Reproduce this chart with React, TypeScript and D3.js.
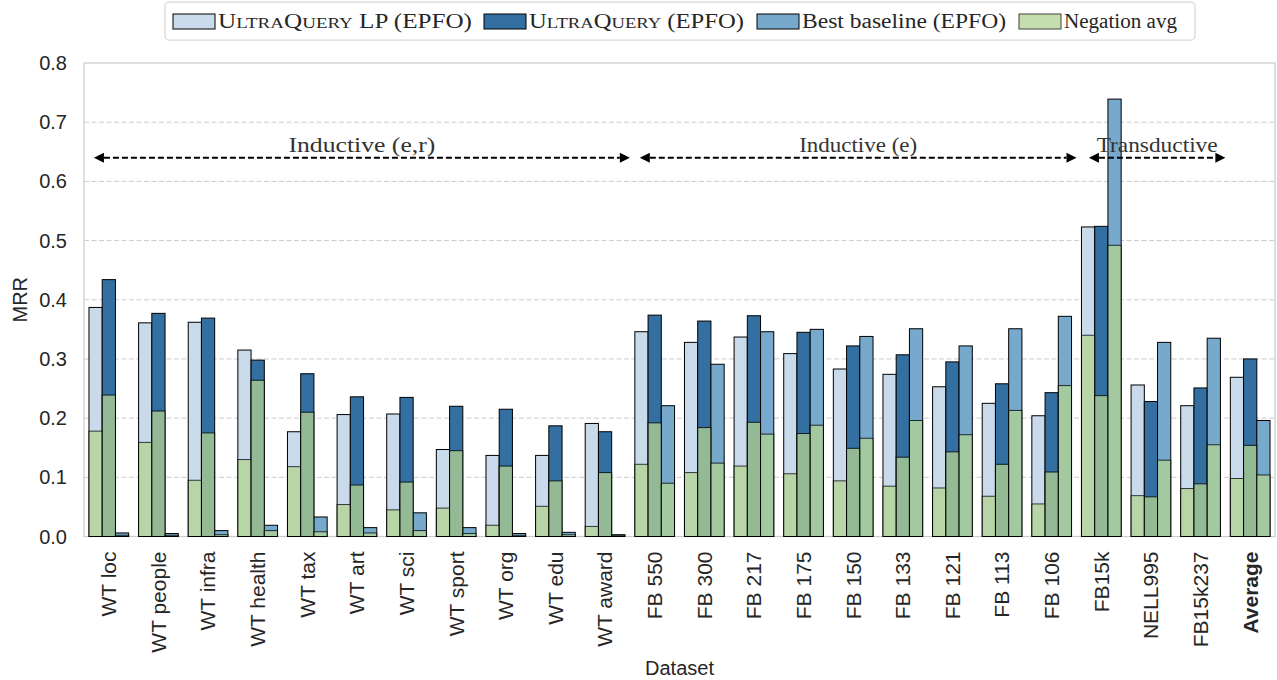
import React from "react";
import * as d3 from "d3";

// datasets on the x axis
const categories = [
  "WT loc", "WT people", "WT infra", "WT health", "WT tax", "WT art", "WT sci",
  "WT sport", "WT org", "WT edu", "WT award",
  "FB 550", "FB 300", "FB 217", "FB 175", "FB 150", "FB 133", "FB 121", "FB 113", "FB 106",
  "FB15k", "NELL995", "FB15k237", "Average",
];

// EPFO MRR
const lpEpfo = [0.387, 0.361, 0.362, 0.315, 0.177, 0.206, 0.207, 0.147, 0.137, 0.137, 0.191,
  0.346, 0.328, 0.337, 0.309, 0.283, 0.274, 0.253, 0.225, 0.204, 0.523, 0.256, 0.221, 0.269];
const uqEpfo = [0.434, 0.377, 0.369, 0.298, 0.275, 0.236, 0.235, 0.220, 0.215, 0.187, 0.177,
  0.374, 0.364, 0.373, 0.345, 0.322, 0.307, 0.295, 0.258, 0.243, 0.524, 0.228, 0.251, 0.300];
const baselineEpfo = [0.006, 0.005, 0.010, 0.019, 0.033, 0.015, 0.040, 0.015, 0.005, 0.007, 0.003,
  0.221, 0.291, 0.346, 0.350, 0.338, 0.351, 0.322, 0.351, 0.372, 0.739, 0.328, 0.335, 0.196];

// negation averages (overlaid)
const lpNeg = [0.178, 0.159, 0.095, 0.130, 0.118, 0.054, 0.045, 0.048, 0.019, 0.051, 0.017,
  0.122, 0.108, 0.119, 0.106, 0.094, 0.085, 0.082, 0.068, 0.055, 0.340, 0.069, 0.081, 0.098];
const uqNeg = [0.239, 0.212, 0.175, 0.264, 0.210, 0.087, 0.092, 0.145, 0.119, 0.094, 0.108,
  0.192, 0.184, 0.193, 0.174, 0.149, 0.134, 0.143, 0.122, 0.109, 0.238, 0.067, 0.089, 0.154];
const baselineNeg = [0.002, 0.002, 0.003, 0.010, 0.008, 0.006, 0.010, 0.005, 0.002, 0.003, 0.002,
  0.090, 0.124, 0.173, 0.188, 0.166, 0.196, 0.172, 0.213, 0.255, 0.492, 0.129, 0.155, 0.104];

const yTicks = [0, 0.1, 0.2, 0.3, 0.4, 0.5, 0.6, 0.7, 0.8];

// setting annotations, in category units
const regionLabels = ["Inductive (e,r)", "Inductive (e)", "Transductive"];
const regionStart = [-0.3, 10.7, 19.75];
const regionEnd = [10.5, 19.5, 22.5];
const regionLevel = 0.64;

const LIGHT = "#c9daea";
const DARK = "#336fa1";
const MID = "#76a9cb";
const GREEN = "rgb(179,212,146)";
const SANS = "'Liberation Sans', Arial, sans-serif";
const SERIF = "'Liberation Serif', 'Times New Roman', serif";

const W = 1277;
const H = 680;
const margin = { left: 84, right: 2, top: 63, bottom: 143.5 };

// rough widths of the serif labels, to mimic the wider Computer Modern face
const regionTextWidth = [147, 118, 121];

const UltraQuery = () => (
  <>
    <tspan>U</tspan>
    <tspan fontSize={15.5}>LTRA</tspan>
    <tspan>Q</tspan>
    <tspan fontSize={15.5}>UERY</tspan>
  </>
);

const App: React.FC = () => {
  const x0 = margin.left;
  const x1 = W - margin.right;
  const yBottom = H - margin.bottom;

  const x = d3.scaleBand<string>().domain(categories).range([x0, x1]).padding(0);
  const y = d3.scaleLinear().domain([0, 0.8]).range([yBottom, margin.top]);
  const band = x.bandwidth();
  const bw = (band * 0.8) / 3;
  const catX = (i: number) => x0 + (i + 0.5) * band;

  const mainSeries = [
    { values: lpEpfo, color: LIGHT },
    { values: uqEpfo, color: DARK },
    { values: baselineEpfo, color: MID },
  ];
  const negSeries = [lpNeg, uqNeg, baselineNeg];

  const legendItems = [
    { color: LIGHT, px: 173, width: 254, label: <><UltraQuery /> LP (EPFO)</> },
    { color: DARK, px: 484, width: 215, label: <><UltraQuery /> (EPFO)</> },
    { color: MID, px: 757, width: 204, label: <>Best baseline (EPFO)</> },
    { color: GREEN, px: 1019, width: 113, label: <>Negation avg</>, alpha: 0.75 },
  ];

  const arrowY = y(regionLevel);
  const head = 10;

  return (
    <svg
      width={W}
      height={H}
      style={{ position: "absolute", left: 0, top: 0, background: "#fff" }}
    >
      {/* grid */}
      {yTicks.slice(1, -1).map((t) => (
        <line key={t} x1={x0} x2={x1} y1={y(t)} y2={y(t)}
          stroke="#cccccc" strokeWidth={1} strokeDasharray="5,2.5" />
      ))}

      {/* spines */}
      <rect x={x0} y={margin.top} width={x1 - x0} height={yBottom - margin.top}
        fill="none" stroke="#cccccc" strokeWidth={1.25} />

      {/* EPFO bars */}
      {mainSeries.map((s, si) =>
        s.values.map((v, i) => (
          <rect key={`m${si}-${i}`}
            x={catX(i) + (si - 1.5) * bw} y={y(v)} width={bw} height={yBottom - y(v)}
            fill={s.color} stroke="#000" strokeWidth={1} />
        ))
      )}

      {/* negation overlay */}
      {negSeries.map((vals, si) =>
        vals.map((v, i) => (
          <rect key={`n${si}-${i}`}
            x={catX(i) + (si - 1.5) * bw} y={y(v)} width={bw} height={yBottom - y(v)}
            fill={GREEN} stroke="#000" strokeWidth={1} opacity={0.75} />
        ))
      )}

      {/* y axis */}
      {yTicks.map((t) => (
        <text key={t} x={67} y={y(t)} dy="0.35em" textAnchor="end"
          fontFamily={SANS} fontSize={20} fill="#262626">
          {t.toFixed(1)}
        </text>
      ))}
      <text transform={`translate(27,${(margin.top + yBottom) / 2}) rotate(-90)`}
        textAnchor="middle" fontFamily={SANS} fontSize={20} fill="#262626">MRR</text>

      {/* x axis */}
      {categories.map((c, i) => (
        <text key={c} transform={`translate(${catX(i)},${yBottom + 15}) rotate(-90)`}
          dy="0.35em" textAnchor="end" fontFamily={SANS} fontSize={21}
          fontWeight={c === "Average" ? "bold" : "normal"} fill="#262626">
          {c}
        </text>
      ))}
      <text x={(x0 + x1) / 2} y={675} textAnchor="middle" fontFamily={SANS}
        fontSize={20} fill="#262626">Dataset</text>

      {/* region arrows */}
      {regionLabels.map((lab, i) => {
        const a = catX(regionStart[i]);
        const b = catX(regionEnd[i]);
        return (
          <g key={lab}>
            <line x1={a + head} x2={b - head} y1={arrowY} y2={arrowY}
              stroke="#000" strokeWidth={2} strokeDasharray="6,3" />
            <polygon points={`${a},${arrowY} ${a + head},${arrowY - 5} ${a + head},${arrowY + 5}`} fill="#000" />
            <polygon points={`${b},${arrowY} ${b - head},${arrowY - 5} ${b - head},${arrowY + 5}`} fill="#000" />
            <text x={(a + b) / 2} y={arrowY - 6} textAnchor="middle" fontFamily={SERIF}
              fontSize={22} fill="#333" textLength={regionTextWidth[i]}
              lengthAdjust="spacingAndGlyphs">
              {lab}
            </text>
          </g>
        );
      })}

      {/* legend */}
      <rect x={165} y={2} width={1030} height={38} rx={4} fill="#fff"
        stroke="#d6d6d6" strokeWidth={1.25} />
      {legendItems.map((it, i) => (
        <g key={i}>
          <rect x={it.px} y={14} width={42} height={15} fill={it.color}
            stroke="#000" strokeWidth={1} opacity={it.alpha ?? 1} />
          <text x={it.px + 45} y={28} fontFamily={SERIF} fontSize={20.5} fill="#262626"
            textLength={it.width} lengthAdjust="spacingAndGlyphs">
            {it.label}
          </text>
        </g>
      ))}
    </svg>
  );
};

export default App;
